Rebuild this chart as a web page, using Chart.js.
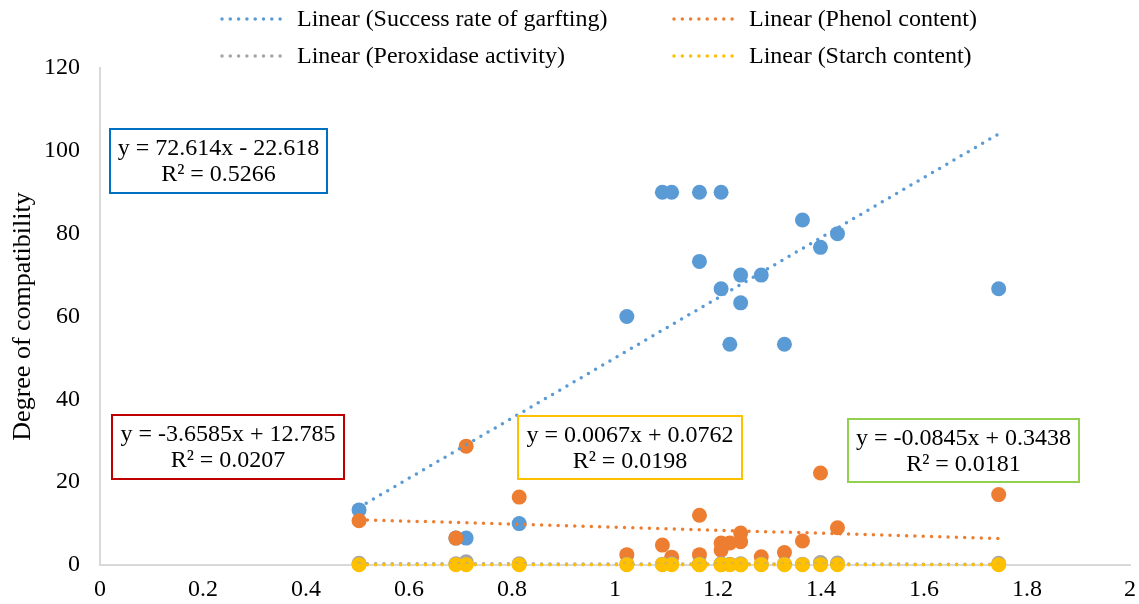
<!DOCTYPE html>
<html>
<head>
<meta charset="utf-8">
<script src="https://cdn.jsdelivr.net/npm/chart.js@4.4.1/dist/chart.umd.min.js"></script>
<style>
  body { margin: 0; background: #fff; }
  #wrap { width: 1139px; height: 604px; }
</style>
</head>
<body>
<div id="wrap"><canvas id="chart" width="1139" height="604"></canvas></div>
<script>
// data
const xValues = [0.503, 0.691, 0.711, 0.814, 1.023, 1.092, 1.110, 1.164, 1.164, 1.206, 1.206, 1.223, 1.244, 1.244, 1.284, 1.329, 1.364, 1.399, 1.432, 1.745];
const successRate = [13.3, 6.5, 6.5, 10.0, 60.0, 90.0, 90.0, 90.0, 73.3, 90.0, 66.7, 53.3, 70.0, 63.3, 70.0, 53.3, 83.3, 76.7, 80.0, 66.7];
const phenolContent = [10.7, 6.5, 28.7, 16.4, 2.5, 4.8, 1.9, 12.0, 2.5, 3.6, 5.3, 5.3, 7.7, 5.6, 2.0, 3.0, 5.8, 22.2, 9.0, 17.0];
const peroxidaseActivity = [0.4, 0.3, 0.8, 0.3, 0.2, 0.2, 0.3, 0.2, 0.2, 0.2, 0.3, 0.2, 0.2, 0.3, 0.2, 0.2, 0.2, 0.6, 0.5, 0.4];
const starchContent = [0.08, 0.08, 0.08, 0.08, 0.08, 0.08, 0.08, 0.08, 0.08, 0.08, 0.08, 0.08, 0.09, 0.08, 0.08, 0.09, 0.08, 0.09, 0.09, 0.09];

const seriesNames = ['Success rate of garfting', 'Phenol content', 'Peroxidase activity', 'Starch content'];
const trendSlopes = [72.614, -3.6585, -0.0845, 0.0067];
const trendIntercepts = [-22.618, 12.785, 0.3438, 0.0762];
const equationLabels = ['y = 72.614x - 22.618', 'y = -3.6585x + 12.785', 'y = -0.0845x + 0.3438', 'y = 0.0067x + 0.0762'];
const r2Labels = ['R² = 0.5266', 'R² = 0.0207', 'R² = 0.0181', 'R² = 0.0198'];

const xTicks = [0, 0.2, 0.4, 0.6, 0.8, 1, 1.2, 1.4, 1.6, 1.8, 2];
const yTicks = [0, 20, 40, 60, 80, 100, 120];

const colors = ['#5B9BD5', '#ED7D31', '#A5A5A5', '#FFC000'];
const FONT = "'Liberation Serif', 'Times New Roman', serif";

const seriesValues = [successRate, phenolContent, peroxidaseActivity, starchContent];
const xMin = Math.min(...xValues), xMax = Math.max(...xValues);

// equation boxes (pixel layout)
const boxes = [
    { x: 110, y: 129, w: 217, h: 64, color: '#0070C0', series: 0 },
    { x: 112, y: 415, w: 232, h: 64, color: '#C00000', series: 1 },
    { x: 848, y: 419, w: 231, h: 63, color: '#92D050', series: 2 },
    { x: 518, y: 416, w: 224, h: 63, color: '#FFC000', series: 3 }
];
const legendPos = [{ x: 220, y: 19 }, { x: 672, y: 19 }, { x: 220, y: 56 }, { x: 672, y: 56 }];

function dotted(ctx, color) {
    ctx.strokeStyle = color;
    ctx.lineWidth = 3.5;
    ctx.lineCap = 'round';
    ctx.setLineDash([0, 8.3]);
}

const overlayPlugin = {
    id: 'overlay',
    afterDraw(chart) {
        const ctx = chart.ctx;
        ctx.save();
        // legend (trendlines only)
        legendPos.forEach((p, i) => {
            dotted(ctx, colors[i]);
            ctx.beginPath();
            ctx.moveTo(p.x + 2, p.y);
            ctx.lineTo(p.x + 64, p.y);
            ctx.stroke();
            ctx.setLineDash([]);
            ctx.fillStyle = '#000';
            ctx.font = `24px ${FONT}`;
            ctx.textBaseline = 'middle';
            ctx.textAlign = 'left';
            ctx.fillText(`Linear (${seriesNames[i]})`, p.x + 77, p.y + 1);
        });
        // equation boxes
        boxes.forEach(b => {
            ctx.setLineDash([]);
            ctx.fillStyle = '#fff';
            ctx.fillRect(b.x, b.y, b.w, b.h);
            ctx.strokeStyle = b.color;
            ctx.lineWidth = 2;
            ctx.strokeRect(b.x, b.y, b.w, b.h);
            ctx.fillStyle = '#000';
            ctx.font = `24px ${FONT}`;
            ctx.textAlign = 'center';
            ctx.textBaseline = 'middle';
            const cx = b.x + b.w / 2, cy = b.y + b.h / 2;
            ctx.fillText(equationLabels[b.series], cx, cy - 12);
            ctx.fillText(r2Labels[b.series], cx, cy + 14);
        });
        ctx.restore();
    }
};

const datasets = [];
// trendlines on top (lowest order drawn last)
seriesNames.forEach((name, i) => {
    datasets.push({
        type: 'line',
        label: 'Linear (' + name + ')',
        data: [xMin, xMax].map(x => ({ x: x, y: trendSlopes[i] * x + trendIntercepts[i] })),
        borderColor: colors[i],
        borderWidth: 3.5,
        borderDash: [0, 8.3],
        borderCapStyle: 'round',
        pointRadius: 0,
        fill: false,
        clip: false,
        order: 3 - i
    });
});
seriesNames.forEach((name, i) => {
    datasets.push({
        type: 'scatter',
        label: name,
        data: xValues.map((x, k) => ({ x: x, y: seriesValues[i][k] })),
        backgroundColor: colors[i],
        borderColor: colors[i],
        borderWidth: 0,
        pointRadius: 7.5,
        clip: false,
        order: 10 - i
    });
});

new Chart(document.getElementById('chart'), {
    type: 'scatter',
    data: { datasets },
    options: {
        responsive: false,
        animation: false,
        events: [],
        layout: { padding: { top: 68, right: 0, left: 0, bottom: 0 } },
        plugins: { legend: { display: false }, tooltip: { enabled: false } },
        scales: {
            x: {
                type: 'linear',
                min: 0, max: 2,
                afterBuildTicks: s => { s.ticks = xTicks.map(v => ({ value: v })); },
                afterFit: s => { s.height = 39; s.paddingRight = 9; s.paddingLeft = 0; },
                grid: { display: false, drawTicks: false },
                border: { color: '#D9D9D9', width: 2 },
                ticks: {
                    color: '#000', padding: 10, maxRotation: 0,
                    font: { family: FONT, size: 24 },
                    callback: v => String(+v.toFixed(1))
                }
            },
            y: {
                type: 'linear',
                min: 0, max: 120,
                afterBuildTicks: s => { s.ticks = yTicks.map(v => ({ value: v })); },
                afterFit: s => { s.width = 100; },
                grid: { display: false, drawTicks: false },
                border: { color: '#D9D9D9', width: 2 },
                ticks: { color: '#000', padding: 20, font: { family: FONT, size: 24 } },
                title: {
                    display: true,
                    text: 'Degree of compatibility',
                    color: '#000',
                    font: { family: FONT, size: 26 },
                    padding: { top: 8, bottom: 0 }
                }
            }
        }
    },
    plugins: [overlayPlugin]
});
</script>
</body>
</html>
